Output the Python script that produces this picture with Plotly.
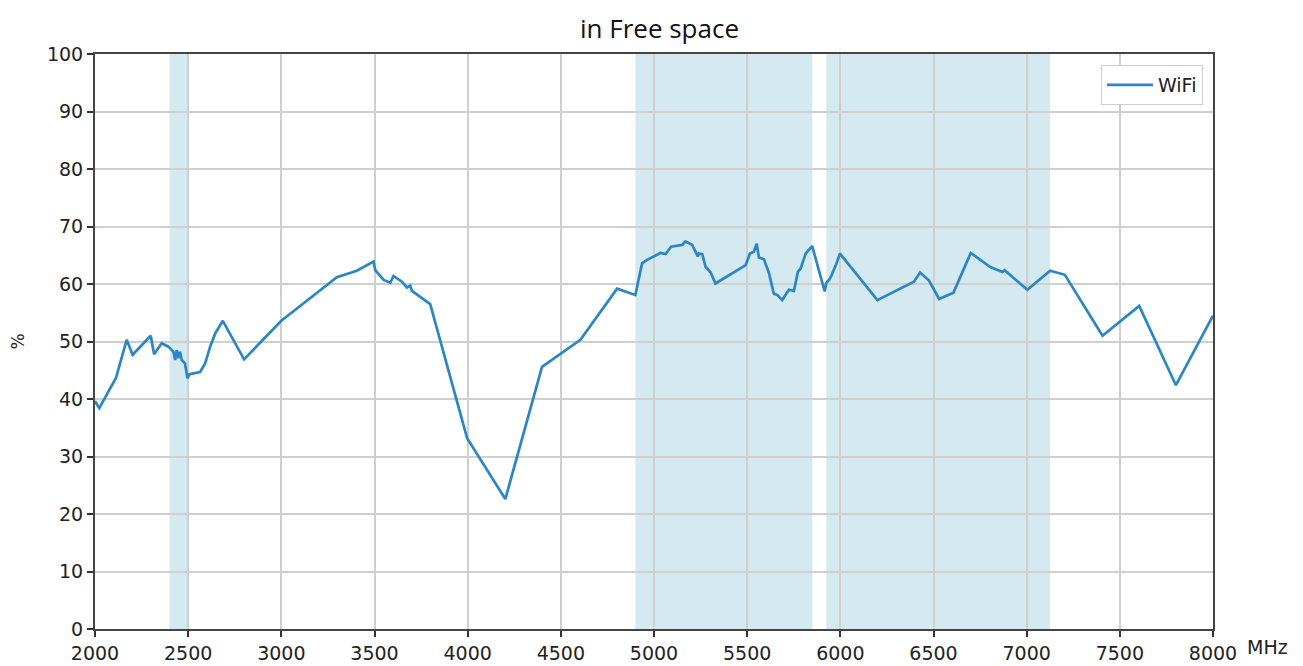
import plotly.graph_objects as go

# Data
freq_mhz = [2000, 2023, 2113, 2170, 2202, 2299, 2317, 2358, 2394, 2421, 2430, 2439, 2446, 2456,
            2465, 2483, 2496, 2507, 2564, 2591, 2618, 2645, 2686, 2800, 3000, 3298, 3405, 3495,
            3504, 3549, 3585, 3602, 3647, 3674, 3692, 3701, 3799, 3997, 4202, 4399, 4605, 4802,
            4900, 4936, 4963, 5035, 5062, 5092, 5151, 5169, 5205, 5228, 5235, 5241, 5259, 5277,
            5304, 5330, 5492, 5515, 5536, 5551, 5563, 5590, 5617, 5643, 5661, 5688, 5724, 5751,
            5772, 5787, 5814, 5849, 5916, 5925, 5939, 5950, 5966, 5975, 5998, 6199, 6395, 6428,
            6476, 6530, 6607, 6700, 6807, 6870, 6882, 7004, 7126, 7205, 7407, 7604, 7801, 8000]
wifi_pct = [39.6, 38.4, 43.7, 50.3, 47.7, 51.0, 47.8, 49.7, 49.1, 48.2, 46.8, 48.5, 47.1, 48.2,
            46.8, 46.2, 43.6, 44.3, 44.7, 46.2, 49.1, 51.4, 53.6, 46.9, 53.6, 61.2, 62.3, 63.9,
            62.4, 60.7, 60.2, 61.4, 60.4, 59.4, 59.7, 58.8, 56.5, 33.2, 22.6, 45.6, 50.3, 59.2,
            58.1, 63.6, 64.2, 65.4, 65.2, 66.5, 66.8, 67.4, 66.8, 65.3, 64.8, 65.3, 65.2, 63.0,
            62.0, 60.1, 63.3, 65.3, 65.6, 67.0, 64.6, 64.3, 61.9, 58.3, 58.1, 57.2, 59.0, 58.8,
            62.1, 62.7, 65.3, 66.6, 58.7, 60.2, 60.7, 61.3, 62.4, 63.2, 65.3, 57.2, 60.4, 62.0,
            60.6, 57.4, 58.5, 65.4, 62.9, 62.1, 62.4, 59.0, 62.3, 61.6, 51.0, 56.2, 42.4, 54.5]

band_start = [2400, 4900, 5925]
band_end = [2500, 5850, 7125]

x_ticks = [2000, 2500, 3000, 3500, 4000, 4500, 5000, 5500, 6000, 6500, 7000, 7500, 8000]
y_ticks = [0, 10, 20, 30, 40, 50, 60, 70, 80, 90, 100]

fig = go.Figure()
fig.add_trace(go.Scatter(x=freq_mhz, y=wifi_pct, mode="lines", name="WiFi",
                         line=dict(color="#2b86c5", width=2.7)))

for s, e in zip(band_start, band_end):
    fig.add_vrect(x0=s, x1=e, fillcolor="#d5e9f1", opacity=1, line_width=0, layer="below")

axis_common = dict(showline=True, linecolor="#444444", linewidth=2, mirror=True,
                   ticks="outside", ticklen=6, tickwidth=1.5, tickcolor="#333333",
                   showgrid=True, gridcolor="#cfcfcf", gridwidth=1.6, zeroline=False,
                   tickfont=dict(family="DejaVu Sans", size=19, color="#222222"))

fig.update_xaxes(range=[2000, 8000], tickvals=x_ticks, ticktext=[str(v) for v in x_ticks], **axis_common)
fig.update_yaxes(range=[0, 100], tickvals=y_ticks, ticktext=[str(v) for v in y_ticks],
                 title=dict(text="%", font=dict(family="DejaVu Sans", size=17, color="#222222"), standoff=18),
                 **axis_common)

fig.add_annotation(text="MHz", x=1.0, y=0, xref="paper", yref="paper", xanchor="left", yanchor="top",
                   xshift=32, yshift=-5, showarrow=False,
                   font=dict(family="DejaVu Sans", size=19, color="#222222"))

fig.update_layout(
    width=1303, height=666,
    margin=dict(l=87, r=98, t=46, b=45, autoexpand=False),
    plot_bgcolor="white", paper_bgcolor="white",
    title=dict(text="in Free space", x=0.5, xanchor="center", y=0.968, yanchor="middle",
               font=dict(family="Open Sans", size=26, color="#111111")),
    showlegend=True,
    legend=dict(x=0.991, y=0.981, xanchor="right", yanchor="top", bgcolor="white",
                bordercolor="#cccccc", borderwidth=1, itemwidth=46,
                font=dict(family="DejaVu Sans", size=19, color="#222222")),
)

fig.write_html("out.html")
